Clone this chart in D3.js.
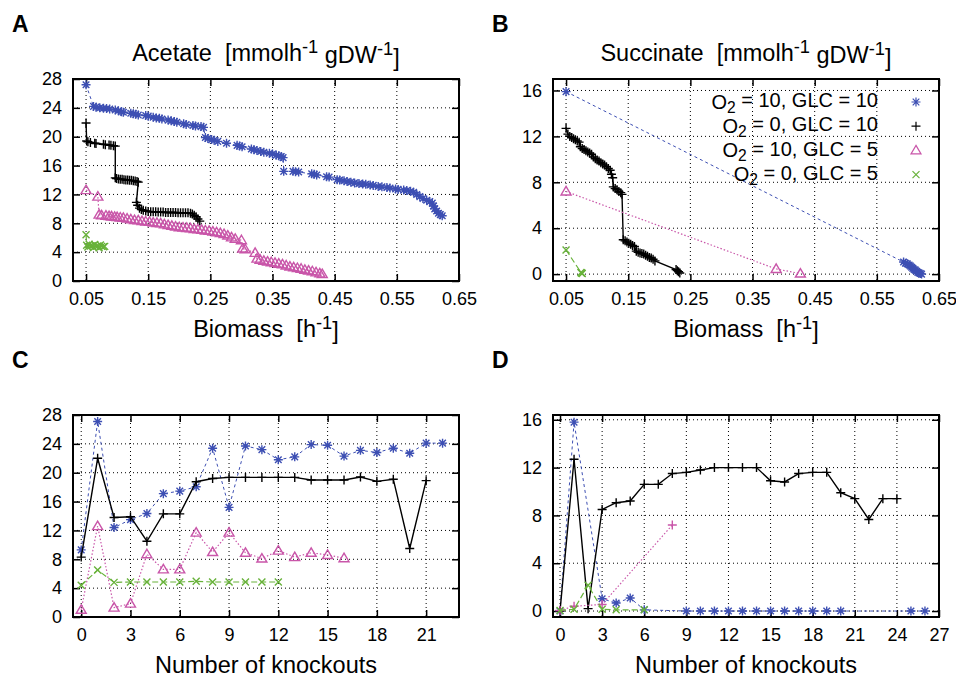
<!DOCTYPE html>
<html lang="en">
<head>
<meta charset="UTF-8">
<title>Acetate and succinate vs biomass and knockouts</title>
<script src="https://cdn.jsdelivr.net/npm/d3@7"></script>
<style>
  body { margin: 0; background: #fff; }
  svg text { font-family: "Liberation Sans", Arial, sans-serif; fill: #000; }
</style>
</head>
<body>
<script>
// tick values
const biomassTicks = [0.05, 0.15, 0.25, 0.35, 0.45, 0.55, 0.65];
const acetateTicks = [0, 4, 8, 12, 16, 20, 24, 28];
const succinateTicks = [0, 4, 8, 12, 16];
const knockTicksC = [0, 3, 6, 9, 12, 15, 18, 21];
const knockTicksD = [0, 3, 6, 9, 12, 15, 18, 21, 24, 27];

// A: acetate vs biomass  [biomass, flux]
const acetate_O10_G10 = [[0.05,27.2],[0.062,24.2],[0.066,24.1],[0.072,24.0],[0.078,23.95],[0.083,23.9],[0.088,23.85],[0.097,23.7],[0.102,23.6],[0.107,23.45],[0.11,23.4],[0.122,23.25],[0.126,23.2],[0.13,23.1],[0.134,23.0],[0.146,22.95],[0.15,22.85],[0.158,22.7],[0.163,22.6],[0.168,22.55],[0.172,22.45],[0.182,22.3],[0.187,22.2],[0.192,22.1],[0.196,22.0],[0.207,21.8],[0.211,21.7],[0.222,21.55],[0.226,21.5],[0.235,21.4],[0.239,21.3],
  [0.242,19.9],[0.246,19.75],[0.252,19.6],[0.256,19.5],[0.262,19.35],[0.276,19.1],[0.293,18.8],[0.297,18.7],[0.301,18.6],[0.316,18.3],[0.32,18.2],[0.325,18.1],[0.331,17.95],[0.336,17.85],[0.345,17.7],[0.35,17.6],[0.356,17.45],[0.36,17.35],[0.364,17.25],[0.367,17.1],
  [0.368,15.2],[0.383,15.2],[0.387,15.15],[0.392,15.1],[0.413,14.85],[0.417,14.8],[0.421,14.7],[0.437,14.45],[0.441,14.4],[0.454,14.05],[0.458,14.0],[0.465,13.9],[0.47,13.8],[0.476,13.7],[0.482,13.6],[0.489,13.5],[0.495,13.45],[0.5,13.4],[0.507,13.3],[0.512,13.25],[0.52,13.1],[0.526,13.05],[0.534,12.95],[0.539,12.9],[0.548,12.75],[0.552,12.7],[0.561,12.6],[0.566,12.55],[0.572,12.45],[0.577,12.3],[0.582,12.0],[0.587,11.7],[0.592,11.45],[0.598,11.2],[0.603,11.0],[0.607,10.8],[0.609,10.4],[0.611,10.0],[0.614,9.7],[0.617,9.4],[0.62,9.2],[0.623,9.05]];
const acetate_O0_G10 = [[0.05,21.9],[0.051,19.4],[0.053,19.3],[0.057,19.2],[0.064,19.1],[0.066,19.05],[0.078,18.95],[0.081,18.9],[0.087,18.85],[0.09,18.8],[0.094,18.75],[0.097,18.7],
  [0.097,14.3],[0.099,14.2],[0.102,14.15],[0.105,14.1],[0.108,14.1],[0.111,14.05],[0.114,14.0],[0.117,14.0],[0.12,13.95],[0.123,13.95],[0.126,13.9],[0.129,13.85],[0.132,13.8],[0.134,13.7],
  [0.131,10.9],[0.133,10.5],[0.136,10.1],[0.139,9.9],[0.142,9.8],[0.146,9.7],[0.15,9.65],[0.154,9.6],[0.158,9.6],[0.162,9.6],[0.166,9.55],[0.17,9.55],[0.174,9.55],[0.178,9.5],[0.182,9.5],[0.186,9.5],[0.19,9.5],[0.194,9.5],[0.198,9.45],[0.202,9.45],[0.206,9.45],[0.21,9.45],[0.214,9.45],[0.218,9.4],[0.221,9.3],[0.224,9.1],[0.227,8.9],[0.23,8.6],[0.233,8.3]];
const acetate_O10_G5 = [[0.05,12.6],[0.069,11.7],[0.071,9.2],[0.075,9.1],[0.082,9.05],[0.087,9.0],[0.091,8.95],[0.096,8.9],[0.1,8.85],[0.105,8.8],[0.11,8.75],[0.116,8.65],[0.122,8.55],[0.128,8.45],[0.134,8.4],[0.14,8.3],[0.146,8.25],[0.152,8.2],[0.158,8.1],[0.164,8.05],[0.17,8.0],[0.176,7.85],[0.182,7.75],[0.188,7.65],[0.194,7.55],[0.2,7.45],[0.206,7.4],[0.212,7.35],[0.218,7.3],[0.224,7.2],[0.23,7.15],[0.236,7.1],[0.242,7.0],[0.248,6.95],[0.254,6.85],[0.26,6.75],[0.266,6.65],[0.272,6.5],[0.278,6.3],[0.284,6.05],[0.29,5.85],[0.3,5.65],
  [0.302,4.5],[0.306,4.4],[0.322,3.9],[0.325,3.1],[0.33,2.95],[0.336,2.8],[0.342,2.7],[0.348,2.6],[0.354,2.5],[0.36,2.4],[0.366,2.3],[0.372,2.15],[0.378,2.0],[0.384,1.9],[0.39,1.8],[0.396,1.7],[0.402,1.55],[0.408,1.45],[0.414,1.35],[0.42,1.2],[0.426,1.05],[0.43,0.95]];
const acetate_O0_G5 = [[0.05,6.4],[0.051,4.95],[0.053,4.7],[0.055,5.1],[0.057,4.85],[0.06,4.9],[0.062,4.65],[0.064,5.05],[0.066,4.8],[0.069,4.85],[0.071,4.6],[0.073,5.0],[0.075,4.8],[0.078,4.75],[0.08,4.8]];

// B: succinate vs biomass
const succ_O10_G10 = [[0.05,15.9],[0.593,1.05],[0.596,0.95],[0.599,0.9],[0.602,0.8],[0.604,0.7],[0.606,0.6],[0.608,0.5],[0.61,0.4],[0.612,0.35],[0.614,0.25],[0.616,0.15],[0.618,0.1],[0.62,0.05],[0.622,0.0]];
const succ_O0_G10 = [[0.05,12.7],[0.053,12.2],[0.056,12.0],[0.059,11.9],[0.062,11.8],[0.065,11.7],[0.068,11.6],[0.071,11.5],[0.073,11.1],[0.076,10.95],[0.079,10.85],[0.082,10.75],[0.085,10.65],[0.088,10.55],[0.091,10.45],[0.094,10.2],[0.097,10.05],[0.1,9.95],[0.103,9.85],[0.106,9.7],[0.109,9.6],[0.112,9.5],[0.115,9.35],[0.118,9.2],[0.121,9.05],[0.123,8.7],[0.125,8.4],
  [0.126,7.6],[0.129,7.45],[0.132,7.35],[0.135,7.2],[0.138,7.1],[0.14,6.95],
  [0.142,3.0],[0.145,2.9],[0.148,2.8],[0.151,2.7],[0.154,2.6],[0.157,2.5],[0.16,2.4],[0.163,2.0],[0.166,1.9],[0.169,1.85],[0.172,1.8],[0.175,1.75],[0.178,1.65],[0.181,1.55],[0.184,1.45],[0.187,1.4],[0.19,1.3],[0.193,1.15],
  [0.227,0.4],[0.229,0.3],[0.231,0.2],[0.233,0.1]];
const succ_O10_G5 = [[0.05,7.2],[0.388,0.45],[0.427,0.05]];
const succ_O0_G5 = [[0.05,2.1],[0.074,0.15],[0.075,0.1],[0.076,0.05]];

// C: acetate vs number of knockouts
const knockC_O10_G10 = [0,1,2,3,4,5,6,7,8,9,10,11,12,13,14,15,16,17,18,19,20,21,22];
const acetC_O10_G10 = [9.3,27.1,12.4,13.5,14.35,17.1,17.45,18.05,23.4,15.2,23.7,23.2,21.8,22.2,23.9,23.8,22.3,23.1,22.8,23.4,22.7,24.1,24.1];
const knockC_O0_G10 = [0,1,2,3,4,5,6,7,8,9,10,11,12,13,14,15,16,17,18,19,20,21];
const acetC_O0_G10 = [8.3,22.0,13.8,13.9,10.5,14.3,14.3,18.75,19.2,19.35,19.35,19.35,19.35,19.35,19.0,19.0,19.0,19.4,18.8,19.1,9.5,18.9];
const knockC_O10_G5 = [0,1,2,3,4,5,6,7,8,9,10,11,12,13,14,15,16];
const acetC_O10_G5 = [1.0,12.6,1.3,1.85,8.7,6.6,6.6,11.7,9.0,11.7,8.9,8.1,9.2,8.3,8.9,8.6,8.15];
const knockC_O0_G5 = [0,1,2,3,4,5,6,7,8,9,10,11,12];
const acetC_O0_G5 = [4.4,6.5,4.8,4.85,4.85,4.85,4.85,4.95,4.85,4.85,4.85,4.85,4.85];

// D: succinate vs number of knockouts
const knockD_O10_G10 = [0,1,3,4,5,6,9,10,11,12,13,14,15,16,17,18,19,20,25,26];
const succD_O10_G10 = [0,15.8,1.03,0.67,1.09,0.1,0,0,0,0,0,0,0,0,0,0,0,0,0,0];
const knockD_O0_G10 = [0,1,2,3,4,5,6,7,8,9,10,11,12,13,14,15,16,17,18,19,20,21,22,23,24];
const succD_O0_G10 = [0,12.7,0.2,8.5,9.06,9.2,10.6,10.6,11.5,11.6,11.8,12.0,12.0,12.0,12.0,10.9,10.8,11.5,11.6,11.6,9.9,9.4,7.66,9.4,9.4];
const knockD_O10_G5 = [0,1,3,8];
const succD_O10_G5 = [0.05,0.4,0.55,7.2];
const knockD_O0_G5 = [0,1,2,3,4,6];
const succD_O0_G5 = [0.05,0.15,2.15,0.15,0.1,0.1];

const blue = "#3d4fb3", magenta = "#c956a9", green = "#68b23a";
const styles = {
  o10g10: {color: blue, dash: "3,3", width: 1, mark: "star"},
  o0g10: {color: "#000", dash: null, width: 1.4, mark: "plus"},
  o10g5: {color: magenta, dash: "1.5,2", width: 1.2, mark: "tri"},
  o0g5: {color: green, dash: "6,3", width: 1.2, mark: "cross"}
};

const pairs = (ks, vs) => ks.map((k, i) => [k, vs[i]]);

function markPath(type) {
  const s = 4.5, a = 3.3;
  if (type === "star") return `M${-s},0H${s}M0,${-s}V${s}M${-a},${-a}L${a},${a}M${-a},${a}L${a},${-a}`;
  if (type === "plus") return `M${-s},0H${s}M0,${-s}V${s}`;
  if (type === "cross") return `M-3.5,-3.5L3.5,3.5M-3.5,3.5L3.5,-3.5`;
  return "M0,-5L5,3.5L-5,3.5Z";
}

const svg = d3.select("body").append("svg").attr("width", 956).attr("height", 677);

// text with super/subscript pieces: [text, "sup"|"sub"|null]
function supText(sel, parts, subShift) {
  let shift = 0;
  parts.forEach(([t, kind]) => {
    const ts = sel.append("tspan").text(t);
    const target = kind === "sup" ? -0.45 : kind === "sub" ? (subShift || 0.35) : 0;
    if (target !== shift) ts.attr("dy", (target - shift) + "em");
    if (kind) ts.attr("font-size", "0.78em");
    shift = target;
  });
}

const panels = [
  {letter: "A", left: 73, top: 79, xDomain: [0.029, 0.65], yDomain: [0, 28], xTicks: biomassTicks, yTicks: acetateTicks, xFmt: d3.format(".2f"),
   title: [["Acetate  [mmolh", null], ["-1", "sup"], [" gDW", null], ["-1", "sup"], ["]", null]],
   xlabel: [["Biomass  [h", null], ["-1", "sup"], ["]", null]], xlabelY: 337,
   series: [[acetate_O10_G10, "o10g10"], [acetate_O0_G10, "o0g10"], [acetate_O10_G5, "o10g5"], [acetate_O0_G5, "o0g5"]]},
  {letter: "B", left: 553, top: 79, xDomain: [0.029, 0.65], yDomain: [-0.6, 17], xTicks: biomassTicks, yTicks: succinateTicks, xFmt: d3.format(".2f"),
   title: [["Succinate  [mmolh", null], ["-1", "sup"], [" gDW", null], ["-1", "sup"], ["]", null]],
   xlabel: [["Biomass  [h", null], ["-1", "sup"], ["]", null]], xlabelY: 337, legend: true,
   series: [[succ_O10_G10, "o10g10"], [succ_O0_G10, "o0g10"], [succ_O10_G5, "o10g5"], [succ_O0_G5, "o0g5"]]},
  {letter: "C", left: 73, top: 415, xDomain: [-0.5, 23], yDomain: [0, 28], xTicks: knockTicksC, yTicks: acetateTicks, xFmt: d3.format("d"),
   xlabel: [["Number of knockouts", null]], xlabelY: 673,
   series: [[pairs(knockC_O10_G10, acetC_O10_G10), "o10g10"], [pairs(knockC_O0_G10, acetC_O0_G10), "o0g10"], [pairs(knockC_O10_G5, acetC_O10_G5), "o10g5"], [pairs(knockC_O0_G5, acetC_O0_G5), "o0g5"]]},
  {letter: "D", left: 553, top: 415, xDomain: [-0.5, 27], yDomain: [-0.5, 16.4], xTicks: knockTicksD, yTicks: succinateTicks, xFmt: d3.format("d"),
   xlabel: [["Number of knockouts", null]], xlabelY: 673,
   series: [[pairs(knockD_O10_G10, succD_O10_G10), "o10g10"], [pairs(knockD_O0_G10, succD_O0_G10), "o0g10"], [pairs(knockD_O10_G5, succD_O10_G5), "o10g5", "plus"], [pairs(knockD_O0_G5, succD_O0_G5), "o0g5"]]}
];

const W = 386, H = 202;

panels.forEach(p => {
  const g = svg.append("g").attr("transform", `translate(${p.left},${p.top})`);
  const x = d3.scaleLinear().domain(p.xDomain).range([0, W]);
  const y = d3.scaleLinear().domain(p.yDomain).range([H, 0]);

  svg.append("text").attr("x", p.left - 61).attr("y", p.top - 47)
    .attr("font-size", 23).attr("font-weight", "bold").text(p.letter);

  // grid
  const grid = g.append("g").attr("stroke", "#000").attr("stroke-width", 1).attr("stroke-dasharray", "1,3");
  grid.selectAll(".gx").data(p.xTicks).join("line").attr("class", "gx")
    .attr("x1", d => x(d)).attr("x2", d => x(d)).attr("y1", 0).attr("y2", H);
  grid.selectAll(".gy").data(p.yTicks).join("line").attr("class", "gy")
    .attr("x1", 0).attr("x2", W).attr("y1", d => y(d)).attr("y2", d => y(d));

  // axes, ticks inward on all four sides
  const ax = [
    g.append("g").attr("transform", `translate(0,${H})`).call(d3.axisBottom(x).tickValues(p.xTicks).tickSize(-7).tickPadding(11).tickFormat(p.xFmt)),
    g.append("g").call(d3.axisLeft(y).tickValues(p.yTicks).tickSize(-7).tickPadding(11).tickFormat(d3.format("d"))),
    g.append("g").call(d3.axisTop(x).tickValues(p.xTicks).tickSize(-7).tickFormat("")),
    g.append("g").attr("transform", `translate(${W},0)`).call(d3.axisRight(y).tickValues(p.yTicks).tickSize(-7).tickFormat(""))
  ];
  ax.forEach(a => {
    a.attr("font-size", 18);
    a.select(".domain").remove();
    a.selectAll(".tick line").attr("stroke-width", 1.5);
  });

  // series
  const line = d3.line().x(d => x(d[0])).y(d => y(d[1]));
  p.series.forEach(([data, key, markOverride]) => {
    const st = styles[key];
    g.append("path").datum(data).attr("d", line).attr("fill", "none")
      .attr("stroke", st.color).attr("stroke-width", st.width)
      .attr("stroke-dasharray", st.dash);
    g.append("g").selectAll("path").data(data).join("path")
      .attr("transform", d => `translate(${x(d[0])},${y(d[1])})`)
      .attr("d", markPath(markOverride || st.mark))
      .attr("fill", "none").attr("stroke", st.color).attr("stroke-width", 1.4);
  });

  // frame
  g.append("rect").attr("width", W).attr("height", H).attr("fill", "none")
    .attr("stroke", "#000").attr("stroke-width", 2);

  if (p.title) {
    const t = svg.append("text").attr("x", p.left + W / 2).attr("y", p.top - 18)
      .attr("text-anchor", "middle").attr("font-size", 23.5).style("white-space", "pre");
    supText(t, p.title);
  }
  const xl = svg.append("text").attr("x", p.left + W / 2).attr("y", p.xlabelY)
    .attr("text-anchor", "middle").attr("font-size", 23.5).style("white-space", "pre");
  supText(xl, p.xlabel);

  if (p.legend) {
    const rows = [["10", "10", "o10g10"], ["0", "10", "o0g10"], ["10", "5", "o10g5"], ["0", "5", "o0g5"]];
    rows.forEach(([o, glc, key], i) => {
      const cy = 102 + i * 24.2;
      const t = svg.append("text").attr("x", 878).attr("y", cy + 6.5)
        .attr("text-anchor", "end").attr("font-size", 20);
      supText(t, [["O", null], ["2", "sub"], [` = ${o}, GLC = ${glc}`, null]], 0.28);
      svg.append("path").attr("transform", `translate(916,${cy})`)
        .attr("d", markPath(styles[key].mark)).attr("fill", "none")
        .attr("stroke", styles[key].color).attr("stroke-width", 1.2);
    });
  }
});
</script>
</body>
</html>
